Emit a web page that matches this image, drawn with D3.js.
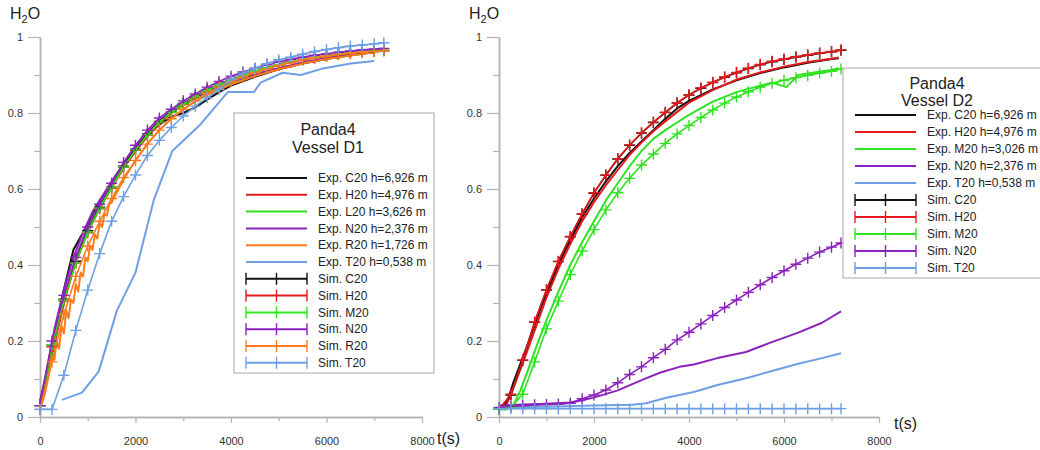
<!DOCTYPE html>
<html>
<head>
<meta charset="utf-8">
<script src="https://cdn.jsdelivr.net/npm/d3@7/dist/d3.min.js"></script>
<style>
  body { margin: 0; background: #fff; }
  text { font-family: "Liberation Sans", Arial, sans-serif; }
</style>
</head>
<body>
<div id="chart"></div>
<script>
// ---- data ----------------------------------------------------------
// time of every simulation point (s)
var simTime = [0,250,500,750,1000,1250,1500,1750,2000,2250,2500,2750,3000,3250,3500,3750,
  4000,4250,4500,4750,5000,5250,5500,5750,6000,6250,6500,6750,7000,7200];

var xTicks = [0, 2000, 4000, 6000, 8000];
var xMinor = [1000, 3000, 5000, 7000];
var yTicks = [0, 0.2, 0.4, 0.6, 0.8, 1];
var yMinor = [0.1, 0.3, 0.5, 0.7, 0.9];

// Vessel D1 - measured, [t, H2O]
var d1ExpC20 = [[0,0.04],[100,0.09],[200,0.13],[350,0.24],[500,0.335],[700,0.44],[900,0.485],[1100,0.53],
  [1300,0.575],[1500,0.61],[1750,0.66],[2000,0.7],[2250,0.74],[2500,0.77],[2750,0.79],[3000,0.8],[3250,0.815],
  [3500,0.835],[3750,0.855],[4000,0.872],[4500,0.895],[5000,0.915],[5500,0.93],[6000,0.942],[6500,0.952],[7000,0.96]];
var d1ExpH20 = [[0,0.03],[150,0.1],[300,0.19],[500,0.3],[700,0.39],[900,0.46],[1100,0.52],[1300,0.565],
  [1500,0.605],[1750,0.655],[2000,0.7],[2250,0.74],[2500,0.772],[2750,0.8],[3000,0.822],[3250,0.84],[3500,0.855],
  [3750,0.868],[4000,0.88],[4500,0.9],[5000,0.918],[5500,0.932],[6000,0.944],[6500,0.954],[7000,0.962]];
var d1ExpL20 = [[0,0.03],[150,0.11],[300,0.2],[500,0.31],[700,0.4],[900,0.47],[1100,0.525],[1300,0.57],
  [1500,0.61],[1750,0.66],[2000,0.705],[2250,0.742],[2500,0.775],[2750,0.8],[3000,0.82],[3250,0.838],[3500,0.853],
  [3750,0.867],[4000,0.878],[4500,0.9],[5000,0.917],[5500,0.932],[6000,0.943],[6500,0.952],[7000,0.96]];
var d1ExpN20 = [[0,0.04],[150,0.13],[300,0.23],[500,0.335],[700,0.42],[900,0.485],[1100,0.54],[1300,0.58],
  [1500,0.62],[1750,0.667],[2000,0.71],[2250,0.748],[2500,0.78],[2750,0.805],[3000,0.825],[3250,0.842],[3500,0.857],
  [3750,0.87],[4000,0.882],[4500,0.902],[5000,0.918],[5500,0.933],[6000,0.944],[6500,0.953],[7000,0.96]];
var d1ExpR20 = [[0,0.02],[100,0.06],[200,0.12],[250,0.16],[300,0.15],[350,0.2],[400,0.18],[450,0.24],[500,0.22],
  [550,0.28],[600,0.26],[650,0.31],[700,0.3],[750,0.35],[800,0.33],[850,0.38],[900,0.37],[950,0.42],[1000,0.41],
  [1050,0.45],[1100,0.44],[1150,0.48],[1200,0.47],[1250,0.51],[1300,0.5],[1350,0.535],[1400,0.53],[1450,0.56],
  [1500,0.565],[1750,0.625],[2000,0.675],[2250,0.72],[2500,0.755],[2750,0.785],[3000,0.81],[3250,0.83],[3500,0.848],
  [3750,0.862],[4000,0.875],[4500,0.897],[5000,0.915],[5500,0.93],[6000,0.942],[6500,0.951],[7000,0.96]];
var d1ExpT20 = [[460,0.045],[880,0.064],[1230,0.12],[1610,0.28],[2000,0.38],[2380,0.57],[2770,0.7],[3360,0.77],
  [3930,0.855],[4480,0.855],[4620,0.88],[5080,0.906],[5460,0.9],[5950,0.918],[6510,0.93],[7000,0.937]];

// Vessel D1 - simulated, one value per simTime
var d1SimC20 = [0.03,0.19,0.31,0.41,0.49,0.552,0.605,0.66,0.705,0.745,0.778,0.803,0.825,0.844,0.861,0.876,
  0.889,0.9,0.91,0.919,0.927,0.934,0.94,0.945,0.95,0.954,0.957,0.96,0.962,0.964];
var d1SimH20 = [0.03,0.185,0.305,0.405,0.485,0.548,0.602,0.657,0.702,0.742,0.775,0.801,0.823,0.842,0.859,0.874,
  0.887,0.899,0.909,0.918,0.926,0.933,0.94,0.946,0.951,0.955,0.958,0.961,0.963,0.965];
var d1SimM20 = [0.03,0.19,0.308,0.405,0.487,0.55,0.604,0.658,0.703,0.743,0.776,0.802,0.824,0.843,0.86,0.875,
  0.888,0.9,0.91,0.919,0.927,0.934,0.941,0.946,0.951,0.955,0.958,0.961,0.963,0.965];
var d1SimN20 = [0.03,0.2,0.32,0.42,0.5,0.56,0.615,0.67,0.715,0.755,0.787,0.81,0.832,0.85,0.868,0.883,
  0.897,0.908,0.918,0.927,0.935,0.941,0.947,0.952,0.956,0.96,0.963,0.966,0.968,0.97];
var d1SimR20 = [0.02,0.145,0.27,0.37,0.45,0.515,0.575,0.63,0.675,0.718,0.755,0.785,0.81,0.832,0.852,0.868,
  0.882,0.895,0.906,0.916,0.925,0.933,0.94,0.945,0.95,0.954,0.957,0.96,0.962,0.964];
var d1SimT20 = [0.02,0.02,0.11,0.228,0.334,0.43,0.515,0.58,0.637,0.688,0.728,0.762,0.792,0.818,0.84,0.862,
  0.888,0.905,0.918,0.93,0.94,0.947,0.955,0.962,0.967,0.972,0.976,0.979,0.982,0.985];

// Vessel D2 - measured, [t, H2O]
var d2ExpC20 = [[0,0.02],[100,0.025],[200,0.05],[300,0.09],[450,0.14],[600,0.19],[800,0.26],[1000,0.325],
  [1250,0.4],[1500,0.465],[1750,0.525],[2000,0.575],[2250,0.62],[2500,0.66],[2750,0.695],[3000,0.725],[3250,0.755],
  [3500,0.785],[3750,0.812],[4000,0.832],[4500,0.862],[5000,0.886],[5500,0.905],[6000,0.92],[6500,0.932],[7000,0.942],[7150,0.944]];
var d2ExpH20 = [[0,0.02],[150,0.03],[300,0.075],[450,0.125],[600,0.175],[800,0.245],[1000,0.315],[1250,0.39],
  [1500,0.455],[1750,0.515],[2000,0.565],[2250,0.61],[2500,0.65],[2750,0.69],[3000,0.722],[3250,0.752],[3500,0.778],
  [3750,0.803],[4000,0.827],[4500,0.86],[5000,0.888],[5500,0.907],[6000,0.922],[6500,0.934],[7000,0.943],[7150,0.946]];
var d2ExpM20 = [[0,0.02],[150,0.02],[300,0.03],[450,0.07],[600,0.12],[800,0.19],[1000,0.255],[1250,0.33],
  [1500,0.4],[1750,0.46],[2000,0.515],[2250,0.57],[2500,0.615],[2750,0.66],[3000,0.7],[3250,0.732],[3500,0.755],
  [3750,0.775],[4000,0.795],[4500,0.83],[5000,0.855],[5500,0.872],[5750,0.88],[6050,0.868],[6300,0.9],[6700,0.908],
  [7000,0.913],[7150,0.918]];
var d2ExpN20 = [[0,0.03],[500,0.033],[1000,0.035],[1500,0.038],[1800,0.045],[2100,0.055],[2500,0.07],[3000,0.097],
  [3400,0.117],[3800,0.132],[4100,0.138],[4600,0.155],[5200,0.171],[5700,0.195],[6300,0.222],[6800,0.248],[7200,0.278]];
var d2ExpT20 = [[0,0.025],[1000,0.027],[2000,0.03],[2800,0.032],[3100,0.036],[3500,0.05],[4100,0.066],[4600,0.084],
  [5200,0.102],[5800,0.123],[6300,0.14],[6800,0.155],[7200,0.168]];

// Vessel D2 - simulated
var d2SimC20 = [0.02,0.058,0.149,0.249,0.334,0.409,0.474,0.534,0.589,0.636,0.679,0.715,0.747,0.775,0.801,0.826,
  0.847,0.865,0.88,0.894,0.906,0.917,0.927,0.935,0.941,0.947,0.952,0.957,0.961,0.965];
var d2SimH20 = [0.02,0.06,0.15,0.25,0.335,0.41,0.475,0.535,0.59,0.637,0.68,0.716,0.748,0.776,0.802,0.827,
  0.848,0.866,0.881,0.895,0.907,0.918,0.928,0.936,0.942,0.948,0.953,0.958,0.962,0.966];
var d2SimM20 = [0.02,0.025,0.06,0.145,0.232,0.305,0.375,0.437,0.493,0.545,0.59,0.628,0.663,0.692,0.72,0.745,
  0.767,0.788,0.808,0.826,0.842,0.856,0.868,0.878,0.886,0.893,0.899,0.905,0.91,0.916];
var d2SimN20 = [0.025,0.028,0.03,0.032,0.033,0.034,0.036,0.048,0.058,0.071,0.09,0.112,0.132,0.156,0.178,0.203,
  0.223,0.245,0.267,0.288,0.308,0.328,0.348,0.367,0.385,0.402,0.418,0.434,0.447,0.458];
var d2SimT20 = [0.022,0.022,0.022,0.022,0.022,0.022,0.022,0.022,0.022,0.022,0.022,0.022,0.022,0.022,0.022,0.022,
  0.022,0.022,0.022,0.022,0.022,0.022,0.022,0.022,0.022,0.022,0.022,0.022,0.022,0.022];

var d1Labels = ["Exp. C20 h=6,926 m","Exp. H20 h=4,976 m","Exp. L20 h=3,626 m","Exp. N20 h=2,376 m",
  "Exp. R20 h=1,726 m","Exp. T20 h=0,538 m","Sim. C20","Sim. H20","Sim. M20","Sim. N20","Sim. R20","Sim. T20"];
var d2Labels = ["Exp. C20 h=6,926 m","Exp. H20 h=4,976 m","Exp. M20 h=3,026 m","Exp. N20 h=2,376 m",
  "Exp. T20 h=0,538 m","Sim. C20","Sim. H20","Sim. M20","Sim. N20","Sim. T20"];

var colors = { C20: "#111111", H20: "#e6191c", L20: "#2ee31f", M20: "#2ee31f",
  N20: "#8b22bb", R20: "#ff7b1c", T20: "#6e9fe4" };
var axisColor = "#b3b3b3";

var svg = d3.select("#chart").append("svg")
  .attr("width", 1040)
  .attr("height", 450)
  .style("display", "block");

function drawPanel(p) {
  var x = d3.scaleLinear().domain([0, 8000]).range([p.x0, p.x1]);
  var y = d3.scaleLinear().domain([0, 1]).range([417, 37]);
  var g = svg.append("g");

  function styleAxis(a) {
    a.select(".domain").attr("stroke", axisColor).attr("stroke-width", 1.5);
    a.selectAll(".tick line").attr("stroke", axisColor).attr("stroke-width", 1.2);
    a.selectAll(".tick text").attr("fill", "#333").style("font-size", "11px")
      .style("font-family", "'Liberation Sans', Arial, sans-serif");
  }

  // minor ticks first, then major with labels
  var gy2 = g.append("g").attr("transform", "translate(" + p.x0 + ",0)")
    .call(d3.axisLeft(y).tickValues(yMinor).tickSize(6).tickSizeOuter(0).tickFormat(""));
  styleAxis(gy2);
  var gy = g.append("g").attr("transform", "translate(" + p.x0 + ",0)")
    .call(d3.axisLeft(y).tickValues(yTicks).tickSize(12).tickSizeOuter(0).tickPadding(5).tickFormat(function (d) { return String(d); }));
  styleAxis(gy);

  var gx2 = g.append("g").attr("transform", "translate(0,417)")
    .call(d3.axisBottom(x).tickValues(xMinor).tickSize(4).tickSizeOuter(0).tickFormat(""));
  styleAxis(gx2);
  var gx = g.append("g").attr("transform", "translate(0,417)")
    .call(d3.axisBottom(x).tickValues(xTicks).tickSize(6).tickSizeOuter(0).tickPadding(14).tickFormat(function (d) { return String(d); }));
  styleAxis(gx);

  // axis titles
  var yt = g.append("text").attr("x", p.x0 - 30).attr("y", 19)
    .attr("fill", "#222").style("font-size", "16px");
  yt.append("tspan").text("H");
  yt.append("tspan").attr("dy", 4).style("font-size", "11px").text("2");
  yt.append("tspan").attr("dy", -4).text("O");

  g.append("text").attr("x", p.tsX).attr("y", p.tsY)
    .attr("fill", "#222").style("font-size", "16px").text("t(s)");

  var line = d3.line()
    .x(function (d) { return x(d[0]); })
    .y(function (d) { return y(d[1]); });

  // measured curves
  p.exp.forEach(function (s) {
    g.append("path")
      .datum(s.data)
      .attr("fill", "none")
      .attr("stroke", colors[s.key])
      .attr("stroke-width", 2)
      .attr("stroke-linejoin", "round")
      .attr("d", line);
  });

  // simulated curves with + markers
  p.sim.forEach(function (s) {
    var pts = simTime.map(function (t, i) { return [t, s.data[i]]; });
    g.append("path")
      .datum(pts)
      .attr("fill", "none")
      .attr("stroke", colors[s.key])
      .attr("stroke-width", 1.6)
      .attr("d", line);
    g.selectAll(null)
      .data(pts)
      .enter().append("path")
      .attr("transform", function (d) { return "translate(" + x(d[0]) + "," + y(d[1]) + ")"; })
      .attr("d", "M-5.5,0H5.5M0,-5.5V5.5")
      .attr("stroke", colors[s.key])
      .attr("stroke-width", 1.4);
  });

  // legend
  var lg = g.append("g");
  lg.append("rect")
    .attr("x", p.lg.x).attr("y", p.lg.y)
    .attr("width", p.lg.w).attr("height", p.lg.h)
    .attr("fill", "#fff").attr("stroke", "#a8a8a8").attr("stroke-width", 1);
  lg.append("text").attr("x", p.lg.tx).attr("y", p.lg.t1)
    .attr("text-anchor", "middle").attr("fill", "#222").style("font-size", "16px").text("Panda4");
  lg.append("text").attr("x", p.lg.tx).attr("y", p.lg.t2)
    .attr("text-anchor", "middle").attr("fill", "#222").style("font-size", "16px").text(p.title);

  var entries = p.exp.concat(p.sim);
  entries.forEach(function (s, i) {
    var yy = p.lg.r0 + i * p.lg.dr;
    var xa = p.lg.x + 12, xb = p.lg.x + 73;
    lg.append("line")
      .attr("x1", xa).attr("x2", xb).attr("y1", yy).attr("y2", yy)
      .attr("stroke", colors[s.key]).attr("stroke-width", 2);
    if (i >= p.exp.length) {
      [xa, (xa + xb) / 2, xb].forEach(function (mx) {
        lg.append("line")
          .attr("x1", mx).attr("x2", mx).attr("y1", yy - 6).attr("y2", yy + 6)
          .attr("stroke", colors[s.key]).attr("stroke-width", 1.4);
      });
    }
    lg.append("text")
      .attr("x", p.lg.x + 84).attr("y", yy).attr("dy", "0.35em")
      .attr("fill", "#222").style("font-size", "12px")
      .text(p.labels[i]);
  });
}

drawPanel({
  x0: 40, x1: 422, tsX: 437, tsY: 444,
  title: "Vessel D1",
  labels: d1Labels,
  exp: [{ key: "C20", data: d1ExpC20 }, { key: "H20", data: d1ExpH20 }, { key: "L20", data: d1ExpL20 },
        { key: "N20", data: d1ExpN20 }, { key: "R20", data: d1ExpR20 }, { key: "T20", data: d1ExpT20 }],
  sim: [{ key: "C20", data: d1SimC20 }, { key: "H20", data: d1SimH20 }, { key: "M20", data: d1SimM20 },
        { key: "N20", data: d1SimN20 }, { key: "R20", data: d1SimR20 }, { key: "T20", data: d1SimT20 }],
  lg: { x: 234, y: 113, w: 200, h: 260, tx: 328, t1: 135, t2: 153, r0: 178, dr: 16.8 }
});

drawPanel({
  x0: 499, x1: 879, tsX: 894, tsY: 429,
  title: "Vessel D2",
  labels: d2Labels,
  exp: [{ key: "C20", data: d2ExpC20 }, { key: "H20", data: d2ExpH20 }, { key: "M20", data: d2ExpM20 },
        { key: "N20", data: d2ExpN20 }, { key: "T20", data: d2ExpT20 }],
  sim: [{ key: "C20", data: d2SimC20 }, { key: "H20", data: d2SimH20 }, { key: "M20", data: d2SimM20 },
        { key: "N20", data: d2SimN20 }, { key: "T20", data: d2SimT20 }],
  lg: { x: 843, y: 68, w: 220, h: 210, tx: 937, t1: 89, t2: 106, r0: 115, dr: 17 }
});
</script>
</body>
</html>
